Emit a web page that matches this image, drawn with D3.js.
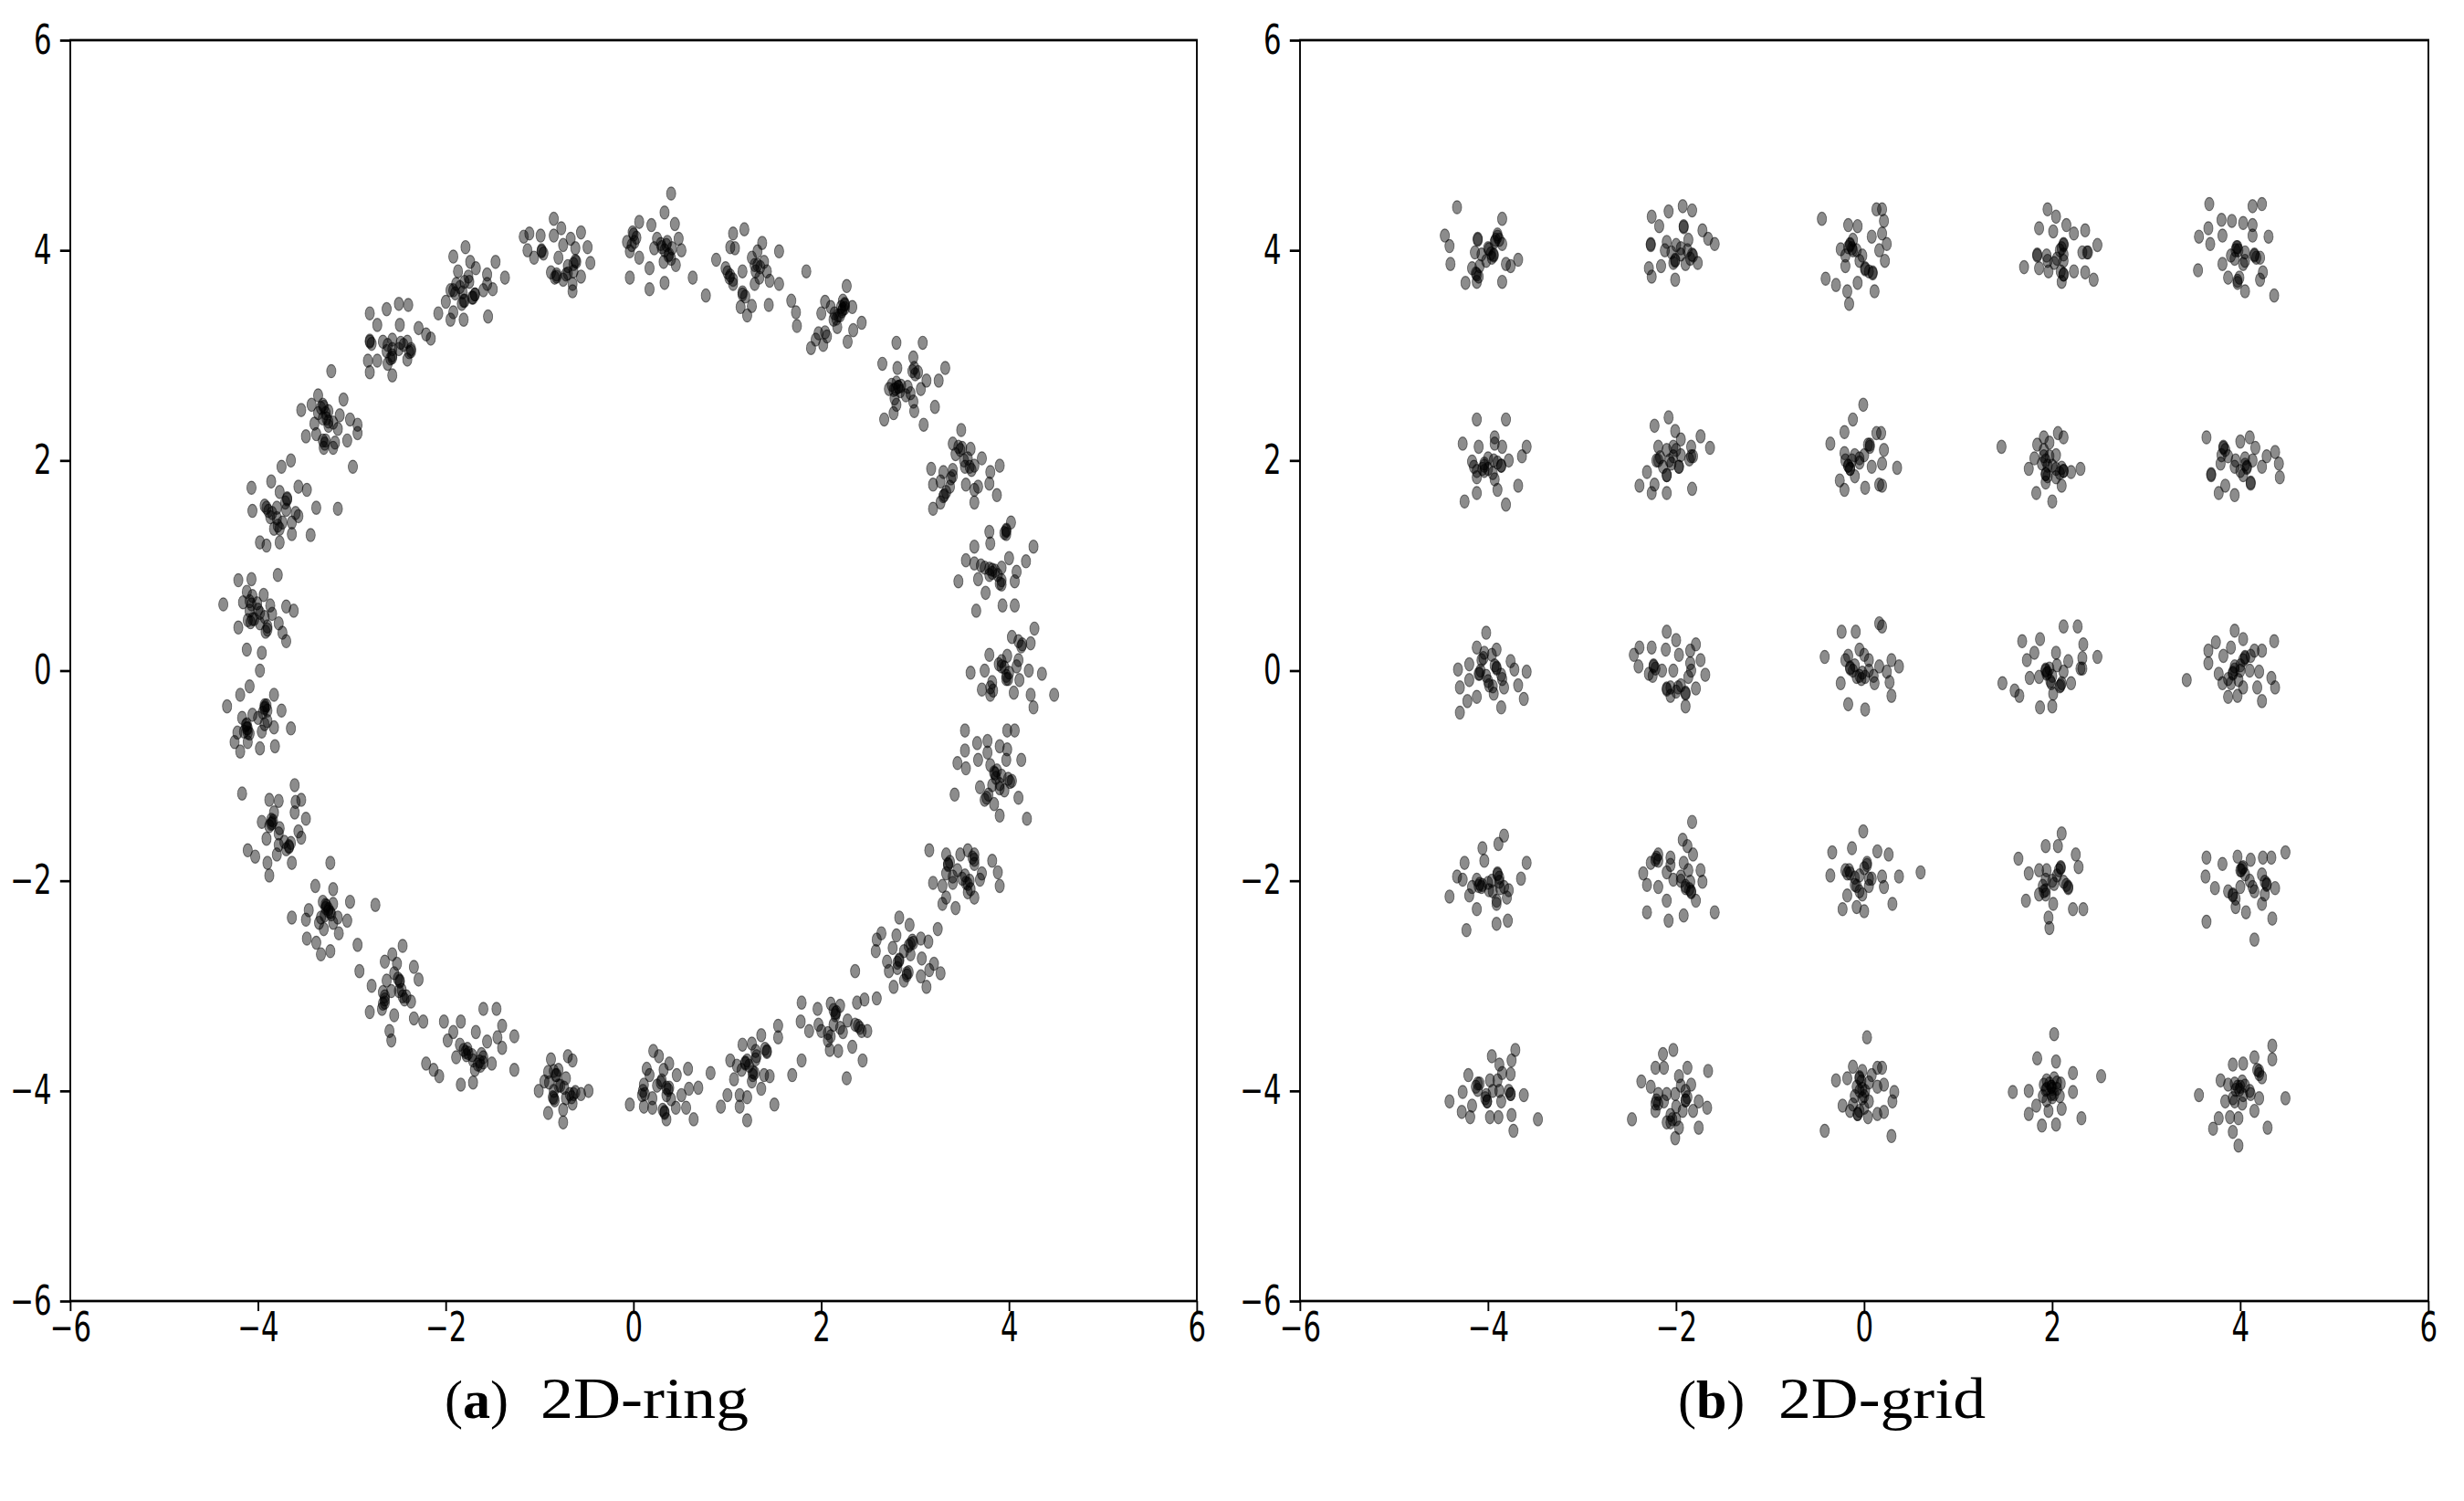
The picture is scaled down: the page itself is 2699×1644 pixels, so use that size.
<!DOCTYPE html>
<html>
<head>
<meta charset="utf-8">
<script src="https://cdn.jsdelivr.net/npm/d3@7"></script>
<style>
  body { margin: 0; background: #fff; }
  svg { display: block; }
</style>
</head>
<body>
<svg id="fig" width="2699" height="1644"></svg>
<script>
// points, one line per cluster
const ringPoints = [
  [0.40,4.54],[0.33,4.36],[0.44,4.25],[0.19,4.24],[0.06,4.27],[-0.01,4.17],[-0.07,4.08],[-0.04,3.99],[0.06,3.93],[0.25,4.11],[0.35,4.05],[0.48,4.11],[0.51,4.00],[0.22,4.02],[0.38,3.96],[0.45,3.86],[0.32,3.89],[0.17,3.83],[-0.04,3.74],[0.17,3.63],[0.33,3.69],[0.63,3.74],[0.01,4.08],[0.29,4.06],[0.41,4.02],
  [1.18,4.20],[1.06,4.16],[1.03,4.03],[1.08,4.02],[1.37,4.07],[1.32,3.99],[1.26,3.93],[1.55,3.99],[0.88,3.91],[0.98,3.83],[1.02,3.74],[1.06,3.68],[1.16,3.80],[1.29,3.86],[1.39,3.89],[1.34,3.74],[1.29,3.68],[1.45,3.71],[1.55,3.68],[1.16,3.58],[1.14,3.46],[1.26,3.47],[1.21,3.38],[1.44,3.48],[1.42,3.80],[0.77,3.57],[1.84,3.80],
  [2.27,3.66],[2.04,3.51],[2.25,3.49],[2.33,3.46],[2.20,3.38],[2.13,3.34],[2.00,3.40],[2.43,3.31],[2.34,3.24],[2.28,3.13],[1.97,3.21],[1.94,3.15],[1.89,3.07],[2.02,3.10],[1.68,3.52],[1.73,3.41],[1.74,3.28],[2.17,3.27],[2.23,3.52],[2.10,3.46],[2.25,3.45],[2.22,3.42],
  [2.80,3.12],[3.08,3.12],[2.65,2.92],[2.81,2.88],[2.98,2.98],[2.99,2.88],[3.32,2.88],[3.25,2.76],[3.12,2.76],[3.06,2.68],[2.85,2.71],[2.77,2.67],[2.72,2.68],[2.90,2.62],[2.98,2.56],[2.80,2.53],[2.77,2.45],[2.67,2.39],[2.99,2.47],[3.09,2.34],[3.21,2.51],[3.03,2.84],[2.78,2.59],[2.75,2.72],[2.82,2.70],
  [3.49,2.29],[3.40,2.16],[3.50,2.12],[3.59,2.11],[3.43,2.06],[3.56,2.02],[3.71,2.02],[3.90,1.95],[3.17,1.92],[3.30,1.89],[3.40,1.91],[3.53,1.94],[3.63,1.95],[3.80,1.89],[3.27,1.80],[3.19,1.77],[3.37,1.75],[3.54,1.77],[3.63,1.72],[3.67,1.75],[3.79,1.78],[3.87,1.67],[3.30,1.66],[3.27,1.60],[3.19,1.54],[3.63,1.60],[3.38,1.83],
  [4.02,1.41],[3.97,1.33],[3.79,1.32],[3.80,1.21],[3.63,1.18],[4.26,1.18],[3.54,1.05],[3.63,1.02],[3.74,0.98],[3.82,0.96],[3.92,0.98],[4.00,1.07],[4.08,0.94],[4.18,1.04],[3.46,0.85],[3.67,0.87],[3.92,0.82],[4.06,0.85],[3.75,0.74],[3.93,0.62],[4.06,0.62],[3.65,0.57],[3.88,0.91],[3.79,0.91],[3.97,1.30],
  [4.27,0.40],[4.03,0.32],[4.13,0.23],[4.23,0.26],[3.79,0.15],[3.92,0.09],[3.98,0.14],[4.08,0.04],[3.59,-0.02],[3.74,0.00],[4.35,-0.03],[4.21,0.00],[3.82,-0.11],[3.71,-0.18],[3.80,-0.23],[3.97,-0.08],[4.05,-0.21],[4.23,-0.23],[4.48,-0.23],[4.26,-0.35],[4.11,-0.09],[3.95,0.03],[4.00,-0.02],[4.10,0.10],
  [3.53,-0.57],[3.98,-0.57],[4.06,-0.57],[3.66,-0.69],[3.77,-0.67],[3.90,-0.72],[3.98,-0.75],[3.53,-0.76],[3.45,-0.88],[3.54,-0.93],[3.67,-0.85],[3.77,-0.78],[3.97,-0.85],[4.13,-0.85],[3.84,-0.97],[3.92,-1.00],[4.03,-1.05],[3.69,-1.11],[3.82,-1.09],[3.90,-1.12],[3.42,-1.18],[3.74,-1.23],[3.84,-1.27],[4.10,-1.21],[3.90,-1.38],[4.19,-1.41],[3.95,-1.14],[3.86,-1.02],
  [3.15,-1.71],[3.33,-1.75],[3.48,-1.75],[3.56,-1.71],[3.63,-1.75],[3.82,-1.81],[3.35,-1.84],[3.63,-1.84],[3.88,-1.92],[3.33,-1.93],[3.53,-1.95],[3.71,-1.93],[3.19,-2.02],[3.29,-2.05],[3.40,-2.02],[3.54,-2.02],[3.59,-2.08],[3.90,-2.05],[3.69,-1.99],[3.33,-2.16],[3.29,-2.22],[3.43,-2.26],[3.63,-2.16],[3.56,-2.11],[3.50,-1.98],
  [2.83,-2.35],[2.94,-2.42],[3.24,-2.46],[2.64,-2.50],[2.80,-2.52],[2.59,-2.56],[2.98,-2.59],[3.06,-2.55],[3.14,-2.58],[2.93,-2.62],[2.58,-2.67],[2.83,-2.76],[2.70,-2.77],[3.07,-2.74],[3.20,-2.79],[2.72,-2.86],[2.91,-2.88],[3.06,-2.91],[3.15,-2.85],[3.27,-2.88],[2.77,-3.01],[2.88,-2.95],[3.12,-3.01],[2.36,-2.86],[2.59,-3.12],[2.81,-2.83],[2.95,-2.70],
  [1.79,-3.16],[1.96,-3.22],[2.10,-3.17],[2.20,-3.19],[2.38,-3.16],[2.46,-3.13],[2.15,-3.28],[1.78,-3.34],[1.87,-3.43],[2.00,-3.43],[2.13,-3.37],[2.36,-3.37],[2.43,-3.43],[2.49,-3.43],[2.07,-3.52],[2.33,-3.58],[2.09,-3.61],[2.18,-3.62],[1.79,-3.71],[2.44,-3.71],[1.69,-3.85],[2.27,-3.88],[2.23,-3.44],[1.97,-3.37],[2.16,-3.25],
  [1.54,-3.38],[1.54,-3.49],[1.36,-3.47],[1.26,-3.55],[1.16,-3.56],[1.42,-3.62],[1.31,-3.67],[1.03,-3.71],[1.19,-3.73],[1.10,-3.76],[1.27,-3.82],[1.39,-3.85],[1.45,-3.86],[1.07,-3.89],[1.26,-3.91],[1.36,-3.98],[1.00,-4.04],[1.13,-4.04],[1.21,-4.06],[0.93,-4.15],[1.13,-4.15],[1.50,-4.13],[1.21,-4.28],[0.82,-3.83],[1.23,-3.76],[1.30,-3.62],
  [0.21,-3.62],[0.27,-3.67],[0.38,-3.74],[0.14,-3.79],[0.32,-3.80],[0.46,-3.85],[0.58,-3.79],[0.17,-3.85],[0.29,-3.92],[0.11,-3.94],[0.38,-3.97],[0.59,-3.98],[0.69,-3.97],[0.09,-4.04],[0.20,-4.07],[0.35,-4.04],[0.51,-4.04],[-0.04,-4.13],[0.11,-4.15],[0.20,-4.16],[0.45,-4.16],[0.56,-4.16],[0.33,-4.21],[0.64,-4.27],[0.35,-4.27],[0.30,-3.90],
  [-0.88,-3.70],[-0.70,-3.67],[-0.65,-3.71],[-0.91,-3.82],[-0.80,-3.80],[-0.72,-3.88],[-0.95,-3.91],[-0.85,-4.00],[-0.74,-3.97],[-0.62,-4.01],[-0.56,-4.03],[-0.48,-4.00],[-1.01,-4.00],[-0.85,-4.07],[-0.72,-4.07],[-0.65,-4.12],[-0.91,-4.21],[-0.75,-4.18],[-0.75,-4.30],[-0.82,-3.85],[-0.80,-3.95],[-0.68,-4.03],
  [-1.60,-3.22],[-1.46,-3.22],[-1.40,-3.38],[-2.02,-3.34],[-1.84,-3.34],[-1.92,-3.44],[-1.68,-3.44],[-1.56,-3.53],[-1.45,-3.49],[-1.27,-3.48],[-1.98,-3.52],[-1.81,-3.61],[-1.76,-3.64],[-1.40,-3.59],[-1.89,-3.68],[-1.71,-3.71],[-1.60,-3.73],[-1.51,-3.74],[-1.69,-3.80],[-2.21,-3.74],[-2.13,-3.80],[-2.07,-3.86],[-1.27,-3.80],[-1.84,-3.94],[-1.71,-3.92],[-1.63,-3.76],[-1.78,-3.66],
  [-2.46,-2.62],[-2.57,-2.70],[-2.65,-2.77],[-2.52,-2.79],[-2.34,-2.82],[-2.29,-2.94],[-2.49,-2.95],[-2.79,-3.00],[-2.67,-3.06],[-2.42,-3.10],[-2.37,-3.15],[-2.65,-3.16],[-2.81,-3.25],[-2.68,-3.22],[-2.55,-3.28],[-2.34,-3.31],[-2.24,-3.34],[-2.60,-3.43],[-2.58,-3.52],[-2.92,-2.86],[-2.63,-2.95],[-2.47,-3.04],[-2.65,-3.10],[-2.50,-3.05],
  [-3.23,-1.83],[-3.39,-2.05],[-3.20,-2.08],[-3.02,-2.20],[-2.75,-2.23],[-3.28,-2.23],[-3.25,-2.29],[-3.46,-2.28],[-3.64,-2.35],[-3.49,-2.37],[-3.33,-2.35],[-3.05,-2.38],[-3.14,-2.50],[-3.30,-2.46],[-3.48,-2.55],[-3.38,-2.59],[-3.33,-2.70],[-3.23,-2.67],[-2.94,-2.61],[-3.22,-2.32],[-3.28,-2.26],[-3.20,-2.40],
  [-3.61,-1.09],[-4.17,-1.17],[-3.88,-1.23],[-3.78,-1.24],[-3.54,-1.23],[-3.83,-1.35],[-3.61,-1.35],[-3.49,-1.41],[-3.96,-1.44],[-3.85,-1.45],[-3.77,-1.50],[-3.91,-1.60],[-3.54,-1.59],[-3.78,-1.66],[-3.67,-1.68],[-4.11,-1.71],[-4.03,-1.77],[-3.80,-1.75],[-3.90,-1.83],[-3.64,-1.83],[-3.88,-1.95],[-3.57,-1.53],[-3.72,-1.63],[-3.86,-1.42],
  [-4.09,-0.15],[-4.19,-0.23],[-3.83,-0.23],[-4.33,-0.34],[-3.93,-0.33],[-3.90,-0.38],[-3.75,-0.38],[-4.17,-0.45],[-4.12,-0.51],[-4.06,-0.42],[-3.93,-0.51],[-3.83,-0.54],[-3.65,-0.55],[-4.22,-0.59],[-4.11,-0.59],[-3.96,-0.58],[-4.11,-0.68],[-4.25,-0.68],[-4.19,-0.77],[-3.98,-0.74],[-3.82,-0.72],[-3.90,-0.48],[-4.12,-0.55],[-3.93,-0.36],
  [-3.79,0.91],[-4.21,0.86],[-4.07,0.87],[-4.37,0.63],[-4.12,0.75],[-4.06,0.71],[-3.94,0.72],[-3.87,0.62],[-3.70,0.61],[-3.62,0.57],[-4.16,0.65],[-4.09,0.57],[-4.04,0.49],[-3.93,0.51],[-3.85,0.54],[-4.21,0.41],[-3.90,0.42],[-3.78,0.45],[-3.74,0.36],[-3.70,0.28],[-4.12,0.20],[-3.96,0.17],[-3.98,0.00],[-4.01,0.64],[-4.11,0.48],[-3.98,0.55],
  [-3.65,2.00],[-3.75,1.94],[-3.86,1.80],[-4.07,1.74],[-3.57,1.75],[-3.48,1.72],[-3.77,1.70],[-3.69,1.64],[-3.93,1.57],[-3.80,1.55],[-4.06,1.52],[-3.38,1.55],[-3.15,1.54],[-3.87,1.46],[-3.57,1.47],[-3.64,1.41],[-3.74,1.41],[-3.83,1.35],[-3.98,1.22],[-3.91,1.19],[-3.77,1.22],[-3.64,1.30],[-3.44,1.29],[-2.99,1.94],[-3.70,1.53],[-3.85,1.50],
  [-3.36,2.62],[-3.09,2.58],[-3.54,2.48],[-3.43,2.53],[-3.30,2.51],[-3.25,2.47],[-3.31,2.40],[-3.13,2.43],[-3.02,2.39],[-2.94,2.34],[-3.25,2.33],[-3.49,2.23],[-3.38,2.25],[-3.28,2.19],[-3.18,2.17],[-3.05,2.19],[-2.94,2.26],[-3.30,2.12],[-3.20,2.12],[-3.22,2.85],[-3.36,2.45],[-3.28,2.45],[-3.20,2.36],
  [-2.81,3.40],[-2.63,3.44],[-2.50,3.49],[-2.40,3.48],[-2.73,3.29],[-2.49,3.29],[-2.81,3.13],[-2.67,3.13],[-2.57,3.15],[-2.41,3.13],[-2.29,3.26],[-2.21,3.20],[-2.16,3.16],[-2.57,3.06],[-2.50,3.06],[-2.37,3.04],[-2.83,2.95],[-2.73,2.95],[-2.57,2.98],[-2.41,2.96],[-2.81,2.84],[-2.57,2.81],[-2.63,3.04],[-2.45,3.10],[-2.62,3.10],
  [-1.79,4.03],[-1.92,3.94],[-1.74,3.89],[-1.68,3.83],[-1.47,3.89],[-1.87,3.80],[-1.76,3.75],[-1.56,3.77],[-1.89,3.68],[-1.95,3.62],[-1.82,3.60],[-1.69,3.58],[-1.56,3.68],[-1.50,3.63],[-1.37,3.74],[-2.00,3.51],[-1.92,3.41],[-1.81,3.34],[-1.95,3.34],[-2.08,3.40],[-1.55,3.37],[-1.81,3.52],[-1.72,3.55],[-1.85,3.65],[-1.80,3.70],
  [-0.85,4.30],[-0.77,4.21],[-1.17,4.13],[-1.11,4.16],[-0.99,4.14],[-0.85,4.14],[-0.56,4.17],[-0.67,4.11],[-0.98,3.99],[-1.13,4.00],[-1.06,3.93],[-0.80,3.93],[-0.61,3.89],[-0.49,4.03],[-0.46,3.88],[-0.88,3.79],[-0.82,3.75],[-0.72,3.77],[-0.64,3.80],[-0.56,3.75],[-0.65,3.68],[-0.65,3.61],[-0.75,4.05],[-0.62,4.02],[-0.70,3.85]
];

// extra points stacked in the dark cores of the ring clusters
const ringCorePoints = [
  [0.00,4.15],[-0.02,4.05],[0.03,4.12],[0.33,4.00],[0.37,3.95],[0.30,4.03],[0.40,3.92],[0.36,4.08],
  [1.03,3.76],[1.06,3.72],[1.32,3.86],[1.30,3.80],[1.35,3.84],[1.16,3.60],[1.19,3.56],[1.00,3.79],
  [2.25,3.48],[2.23,3.44],[2.18,3.38],[2.16,3.35],[2.04,3.22],[2.06,3.18],[2.21,3.46],[2.14,3.40],
  [2.82,2.70],[2.79,2.68],[2.84,2.66],[2.80,2.74],[2.97,2.85],[3.00,2.82],[2.92,2.70],[2.95,2.64],
  [3.46,2.13],[3.48,2.10],[3.58,1.94],[3.60,1.91],[3.31,1.67],[3.33,1.70],[3.52,2.00],[3.40,1.85],
  [3.97,1.34],[3.95,1.31],[3.79,0.97],[3.82,0.93],[3.92,0.86],[3.90,0.83],[3.85,0.95],[3.70,1.00],
  [4.10,0.28],[4.14,0.25],[3.89,0.06],[3.92,0.04],[3.97,-0.05],[3.99,-0.08],[3.80,-0.16],[3.83,-0.19],
  [3.85,-0.98],[3.87,-0.95],[4.01,-1.06],[3.99,-1.03],[3.76,-1.21],[3.78,-1.18],[3.90,-1.08],[3.80,-0.90],
  [3.35,-1.85],[3.37,-1.82],[3.56,-2.03],[3.58,-2.00],[3.61,-1.78],[3.63,-1.80],[3.45,-1.90],[3.40,-1.96],
  [2.95,-2.60],[2.97,-2.57],[2.81,-2.78],[2.83,-2.75],[2.91,-2.90],[2.93,-2.87],[2.88,-2.67],[2.76,-2.64],
  [2.15,-3.26],[2.13,-3.23],[2.41,-3.40],[2.39,-3.38],[2.07,-3.45],[2.10,-3.48],[2.28,-3.33],[2.20,-3.40],
  [1.19,-3.74],[1.21,-3.71],[1.42,-3.63],[1.40,-3.60],[1.27,-3.85],[1.29,-3.83],[1.30,-3.70],[1.15,-3.80],
  [0.35,-3.97],[0.37,-3.99],[0.33,-4.20],[0.31,-4.18],[0.10,-4.00],[0.12,-4.03],[0.25,-3.95],[0.40,-4.08],
  [-0.85,-3.81],[-0.83,-3.85],[-0.86,-4.06],[-0.84,-4.09],[-0.64,-4.03],[-0.66,-4.06],[-0.78,-3.95],[-0.90,-3.92],
  [-1.79,-3.63],[-1.77,-3.60],[-1.66,-3.75],[-1.64,-3.72],[-1.60,-3.68],[-1.62,-3.65],[-1.72,-3.66],[-1.85,-3.56],
  [-2.49,-2.96],[-2.51,-2.93],[-2.67,-3.17],[-2.65,-3.13],[-2.44,-3.13],[-2.46,-3.10],[-2.58,-3.05],[-2.55,-2.88],
  [-3.25,-2.27],[-3.27,-2.24],[-3.23,-2.30],[-3.29,-2.33],[-3.20,-2.22],[-3.31,-2.20],[-3.35,-2.40],[-3.15,-2.35],
  [-3.86,-1.46],[-3.84,-1.43],[-3.88,-1.48],[-3.67,-1.67],[-3.65,-1.64],[-3.70,-1.70],[-3.78,-1.55],[-3.60,-1.25],
  [-3.93,-0.35],[-3.91,-0.33],[-4.11,-0.55],[-4.13,-0.52],[-4.09,-0.60],[-4.15,-0.58],[-4.00,-0.45],[-3.95,-0.40],
  [-4.06,0.49],[-4.08,0.46],[-3.90,0.39],[-3.92,0.37],[-4.09,0.66],[-4.07,0.63],[-3.98,0.45],[-4.00,0.58],
  [-3.91,1.55],[-3.89,1.52],[-3.69,1.63],[-3.71,1.60],[-3.77,1.35],[-3.79,1.38],[-3.80,1.45],[-3.60,1.50],
  [-3.31,2.53],[-3.33,2.50],[-3.25,2.37],[-3.27,2.40],[-3.31,2.19],[-3.29,2.16],[-3.15,2.30],[-3.40,2.35],
  [-2.57,3.00],[-2.59,2.97],[-2.37,3.06],[-2.39,3.03],[-2.81,3.14],[-2.79,3.11],[-2.62,2.92],[-2.48,3.12],
  [-1.92,3.62],[-1.90,3.59],[-1.69,3.58],[-1.71,3.55],[-1.80,3.52],[-1.83,3.49],[-1.75,3.70],[-1.60,3.62],
  [-0.98,4.00],[-0.96,3.97],[-0.82,3.77],[-0.84,3.74],[-0.62,3.90],[-0.64,3.87],[-0.70,3.78],[-0.75,3.72]
];

const gridPoints = [
  [-4.33,4.41],[-3.85,4.30],[-4.46,4.14],[-4.41,4.04],[-4.11,4.11],[-3.90,4.15],[-3.85,4.06],[-3.99,4.01],[-4.07,3.96],[-3.94,3.95],[-4.14,3.98],[-3.68,3.91],[-4.40,3.87],[-4.17,3.83],[-4.09,3.85],[-3.81,3.87],[-3.76,3.85],[-4.12,3.77],[-4.24,3.69],[-4.12,3.70],[-3.85,3.70],[-4.02,3.90],[-3.93,4.08],[-3.92,4.10],[-3.97,3.97],
  [-2.26,4.32],[-2.08,4.37],[-1.93,4.42],[-1.83,4.38],[-2.18,4.23],[-1.92,4.23],[-1.72,4.19],[-2.27,4.05],[-2.10,4.08],[-2.00,4.05],[-1.87,4.10],[-1.66,4.11],[-1.59,4.06],[-2.29,3.83],[-2.16,3.85],[-2.01,3.90],[-1.90,3.87],[-1.82,3.95],[-1.77,3.88],[-2.26,3.75],[-2.01,3.72],[-1.95,3.96],[-1.88,4.00],[-2.05,3.98],
  [-0.45,4.30],[0.13,4.39],[-0.17,4.24],[-0.07,4.23],[-0.25,4.01],[-0.15,4.05],[-0.08,4.00],[0.08,4.13],[-0.02,3.95],[-0.20,3.85],[0.01,3.82],[0.09,3.79],[-0.41,3.73],[-0.30,3.67],[-0.18,3.61],[-0.07,3.69],[0.11,3.61],[-0.16,3.49],[-0.12,4.10],[0.16,4.00],[0.19,4.39],[0.21,4.28],[0.24,4.06],[0.22,3.90],[0.19,4.16],[-0.13,4.02],
  [1.95,4.39],[2.04,4.32],[1.86,4.21],[2.01,4.18],[2.15,4.24],[2.23,4.16],[2.35,4.19],[2.12,4.05],[1.84,3.95],[1.94,3.95],[2.12,3.96],[2.32,3.98],[2.38,3.98],[2.48,4.05],[1.70,3.84],[1.86,3.83],[1.96,3.80],[2.12,3.77],[2.23,3.80],[2.35,3.79],[2.44,3.72],[2.10,3.70],[2.02,3.88],[2.12,3.90],[2.08,4.00],
  [3.67,4.44],[4.13,4.42],[4.23,4.44],[3.80,4.29],[3.91,4.28],[4.03,4.26],[4.13,4.24],[3.66,4.21],[3.56,4.13],[3.68,4.06],[3.81,4.14],[4.13,4.14],[4.30,4.13],[3.97,4.03],[4.05,3.98],[4.15,3.95],[4.21,3.93],[3.55,3.81],[3.81,3.87],[3.94,3.92],[4.24,3.79],[3.87,3.74],[3.97,3.69],[4.05,3.61],[4.36,3.57],[4.21,3.72],[4.03,3.87],[3.95,4.00],
  [-4.12,2.39],[-3.81,2.39],[-4.27,2.16],[-4.10,2.13],[-3.93,2.22],[-3.85,2.13],[-3.59,2.13],[-3.64,2.04],[-4.15,1.94],[-4.04,1.97],[-3.94,2.00],[-3.86,1.95],[-3.78,2.00],[-4.12,1.84],[-3.93,1.82],[-3.68,1.76],[-4.12,1.69],[-3.90,1.72],[-4.25,1.61],[-3.81,1.58],[-4.04,1.90],[-4.17,1.99],[-4.00,1.92],
  [-2.08,2.41],[-2.23,2.33],[-2.01,2.28],[-1.95,2.20],[-1.74,2.23],[-1.64,2.12],[-2.19,2.13],[-2.10,2.10],[-2.03,2.13],[-1.84,2.13],[-2.21,2.00],[-2.14,1.94],[-1.82,2.04],[-1.97,1.94],[-2.31,1.89],[-2.10,1.86],[-2.39,1.76],[-2.23,1.77],[-2.26,1.69],[-2.10,1.69],[-1.83,1.73],[-2.03,2.04],[-2.07,2.00],[-1.95,2.05],
  [-0.01,2.53],[-0.12,2.39],[-0.21,2.27],[-0.36,2.16],[0.06,2.15],[0.13,2.26],[-0.21,2.07],[-0.13,2.00],[-0.15,1.92],[-0.26,1.81],[-0.21,1.72],[0.01,1.74],[0.16,1.77],[-0.05,2.02],[0.08,1.94],[0.18,2.26],[0.21,2.10],[0.19,1.97],[0.35,1.93],[0.19,1.76],[-0.17,1.95],[-0.10,2.05],
  [1.46,2.13],[2.06,2.26],[1.91,2.22],[1.84,2.15],[1.97,2.17],[2.12,2.22],[1.81,2.02],[1.75,1.92],[1.89,1.97],[1.97,2.04],[2.04,2.05],[1.93,1.87],[2.12,1.90],[2.20,1.89],[2.30,1.92],[1.93,1.79],[2.10,1.76],[1.83,1.69],[2.00,1.61],[2.04,1.84],[1.91,2.10],[1.95,1.95],[2.08,1.88],
  [3.64,2.22],[3.82,2.13],[4.00,2.18],[4.10,2.22],[4.16,2.12],[3.87,2.04],[3.79,1.97],[3.69,1.87],[3.94,1.94],[4.07,1.94],[4.13,2.00],[4.28,2.04],[4.37,2.08],[4.41,1.97],[4.42,1.84],[3.84,1.76],[3.77,1.69],[3.94,1.67],[4.11,1.79],[4.23,1.94],[4.03,1.86],[3.80,2.05],[4.05,2.02],
  [-4.02,0.36],[-4.12,0.22],[-3.91,0.20],[-4.04,0.17],[-3.96,0.15],[-3.76,0.09],[-4.32,0.01],[-4.20,0.06],[-4.09,-0.03],[-3.91,0.02],[-3.86,-0.04],[-3.72,0.01],[-3.59,-0.01],[-4.30,-0.16],[-4.20,-0.09],[-3.99,-0.14],[-3.83,-0.16],[-3.68,-0.14],[-4.22,-0.29],[-4.12,-0.25],[-3.94,-0.22],[-3.62,-0.27],[-4.30,-0.40],[-3.86,-0.35],[-4.02,-0.05],[-4.07,0.10],
  [-2.10,0.37],[-2.39,0.22],[-2.26,0.22],[-2.00,0.29],[-1.79,0.25],[-2.11,0.20],[-2.45,0.15],[-1.97,0.15],[-1.85,0.19],[-1.74,0.10],[-2.40,0.04],[-2.24,0.04],[-2.03,0.00],[-1.85,0.07],[-1.87,-0.06],[-1.69,-0.04],[-2.29,-0.03],[-2.10,-0.17],[-1.98,-0.16],[-1.90,-0.22],[-1.79,-0.17],[-2.06,-0.24],[-1.90,-0.34],[-1.84,0.00],[-2.25,-0.05],
  [0.16,0.45],[-0.24,0.37],[-0.09,0.37],[-0.42,0.13],[-0.17,0.14],[-0.05,0.20],[-0.15,0.02],[0.01,-0.06],[-0.08,-0.06],[0.11,-0.12],[-0.25,-0.12],[-0.17,-0.32],[0.01,-0.37],[0.16,0.04],[0.19,0.42],[0.29,0.10],[0.37,0.04],[0.24,-0.01],[0.27,-0.11],[0.29,-0.24],[-0.10,0.05],[0.05,0.00],[-0.02,-0.02],
  [2.12,0.42],[2.27,0.42],[1.68,0.28],[1.87,0.30],[2.33,0.25],[1.81,0.17],[2.04,0.17],[1.73,0.10],[2.17,0.09],[2.32,0.12],[2.48,0.13],[1.93,0.00],[1.86,-0.06],[2.12,-0.01],[2.32,0.02],[1.76,-0.07],[1.47,-0.12],[1.60,-0.19],[1.65,-0.24],[1.99,-0.12],[2.09,-0.14],[2.20,-0.12],[2.01,-0.22],[1.87,-0.35],[2.00,-0.34],[1.94,-0.03],[1.97,0.02],
  [3.94,0.38],[4.03,0.30],[3.74,0.27],[4.36,0.28],[3.66,0.19],[3.90,0.22],[3.82,0.14],[4.05,0.12],[4.15,0.19],[4.23,0.19],[3.66,0.07],[3.77,-0.03],[3.92,-0.03],[4.20,-0.01],[3.43,-0.09],[3.81,-0.12],[3.98,-0.09],[4.03,-0.16],[4.18,-0.16],[4.33,-0.07],[4.37,-0.16],[3.87,-0.25],[3.97,-0.24],[4.23,-0.29],[4.11,0.14],[3.94,0.04],[4.00,0.00],
  [-3.83,-1.57],[-3.89,-1.65],[-4.06,-1.69],[-4.25,-1.83],[-4.04,-1.81],[-3.59,-1.83],[-4.33,-1.96],[-4.27,-1.99],[-4.12,-1.99],[-4.17,-2.06],[-4.06,-2.04],[-3.99,-2.09],[-3.90,-1.93],[-3.88,-2.01],[-3.83,-2.06],[-3.78,-2.09],[-3.65,-1.98],[-4.41,-2.15],[-4.20,-2.14],[-3.91,-2.19],[-3.80,-2.16],[-4.12,-2.27],[-3.91,-2.41],[-3.79,-2.38],[-4.23,-2.47],[-3.96,-2.00],[-4.10,-2.05],
  [-1.83,-1.44],[-1.93,-1.61],[-1.88,-1.67],[-1.82,-1.75],[-2.06,-1.78],[-2.19,-1.75],[-2.27,-1.83],[-2.35,-1.93],[-1.92,-1.83],[-1.87,-1.90],[-1.74,-1.90],[-2.31,-2.04],[-2.19,-2.06],[-2.03,-1.99],[-1.95,-1.96],[-1.90,-2.07],[-1.84,-2.10],[-1.72,-2.01],[-2.10,-2.19],[-1.79,-2.19],[-2.31,-2.30],[-2.08,-2.38],[-1.92,-2.33],[-1.59,-2.30],[-1.85,-2.01],[-2.22,-1.80],
  [-0.01,-1.53],[-0.34,-1.73],[-0.13,-1.69],[0.14,-1.72],[-0.36,-1.95],[-0.20,-1.90],[0.03,-1.85],[-0.10,-2.04],[0.08,-1.98],[-0.18,-2.14],[-0.02,-2.13],[-0.23,-2.27],[-0.08,-2.25],[0.00,-2.29],[-0.15,-1.93],[0.26,-1.75],[0.19,-1.96],[0.21,-2.06],[0.37,-1.96],[0.60,-1.92],[0.30,-2.22],[-0.05,-1.95],[0.05,-2.05],
  [2.10,-1.55],[1.93,-1.67],[2.06,-1.67],[1.64,-1.79],[2.25,-1.75],[1.75,-1.93],[1.86,-1.90],[1.94,-1.90],[2.09,-1.88],[2.28,-1.87],[1.93,-1.99],[2.17,-2.07],[1.86,-2.13],[1.93,-2.09],[1.72,-2.19],[2.01,-2.22],[1.96,-2.35],[1.97,-2.45],[2.22,-2.27],[2.33,-2.27],[2.12,-2.01],[2.02,-2.03],[1.90,-2.05],
  [3.64,-1.78],[3.81,-1.84],[3.97,-1.77],[4.11,-1.80],[4.24,-1.78],[4.33,-1.78],[4.48,-1.73],[3.63,-1.96],[4.00,-1.90],[4.05,-1.94],[4.23,-1.94],[3.73,-2.07],[3.87,-2.10],[4.00,-2.06],[4.13,-2.06],[4.28,-2.03],[4.37,-2.07],[3.95,-2.25],[4.06,-2.30],[4.23,-2.22],[4.34,-2.36],[3.64,-2.39],[4.15,-2.56],[3.92,-2.14],[4.26,-2.13],[4.02,-1.88],
  [-3.71,-3.61],[-3.96,-3.67],[-3.75,-3.71],[-3.88,-3.75],[-4.21,-3.85],[-4.09,-3.93],[-3.98,-3.90],[-3.85,-3.83],[-3.76,-3.84],[-4.27,-4.01],[-4.11,-3.99],[-3.88,-4.00],[-3.76,-4.03],[-3.62,-4.04],[-4.41,-4.10],[-4.01,-4.10],[-3.86,-4.10],[-4.17,-4.14],[-4.28,-4.20],[-4.19,-4.25],[-3.98,-4.25],[-3.89,-4.25],[-3.75,-4.23],[-3.47,-4.27],[-3.73,-4.38],[-4.02,-4.04],
  [-2.03,-3.61],[-2.14,-3.65],[-2.22,-3.78],[-2.13,-3.78],[-1.88,-3.78],[-1.66,-3.81],[-1.97,-3.86],[-2.37,-3.91],[-2.27,-3.96],[-2.19,-4.03],[-2.10,-4.03],[-2.01,-4.03],[-1.90,-4.00],[-1.84,-3.94],[-2.22,-4.12],[-2.13,-4.10],[-1.90,-4.09],[-1.76,-4.10],[-1.67,-4.16],[-2.22,-4.19],[-2.06,-4.23],[-1.93,-4.19],[-1.82,-4.19],[-2.47,-4.27],[-2.10,-4.30],[-1.97,-4.35],[-1.76,-4.35],[-2.01,-4.45],[-2.00,-4.27],
  [0.03,-3.49],[-0.12,-3.77],[-0.02,-3.81],[0.14,-3.78],[-0.30,-3.90],[-0.18,-3.88],[-0.05,-3.87],[0.08,-3.85],[-0.08,-3.96],[0.01,-4.00],[0.14,-3.96],[-0.23,-4.14],[-0.12,-4.13],[-0.02,-4.07],[-0.07,-4.22],[0.04,-4.25],[0.14,-4.22],[-0.42,-4.38],[-0.15,-4.19],[0.00,-4.16],[0.19,-3.78],[0.21,-3.94],[0.32,-4.01],[0.30,-4.10],[0.21,-4.20],[0.29,-4.43],[-0.05,-4.00],[0.05,-3.92],
  [2.02,-3.46],[1.84,-3.69],[2.04,-3.72],[2.22,-3.83],[2.52,-3.86],[1.94,-3.90],[2.02,-3.88],[2.09,-3.93],[1.75,-4.00],[1.58,-4.01],[1.93,-3.99],[1.99,-4.03],[2.22,-4.01],[1.94,-4.09],[1.83,-4.14],[1.75,-4.22],[1.96,-4.19],[2.10,-4.17],[2.31,-4.26],[1.89,-4.33],[2.04,-4.32],[1.99,-3.96],[1.91,-3.94],[2.00,-3.98],[2.05,-3.92],
  [4.34,-3.57],[4.34,-3.70],[4.15,-3.68],[3.92,-3.75],[4.03,-3.74],[4.20,-3.81],[3.79,-3.90],[3.94,-3.93],[4.02,-3.91],[4.23,-3.87],[3.87,-3.94],[3.56,-4.04],[4.03,-4.04],[4.11,-4.03],[4.20,-4.07],[4.48,-4.07],[3.84,-4.10],[4.02,-4.12],[4.15,-4.19],[3.77,-4.26],[3.89,-4.25],[3.98,-4.26],[4.29,-4.35],[3.71,-4.36],[3.92,-4.39],[3.98,-4.52],[3.95,-3.99],[4.00,-3.96]
];

// extra points stacked in the dark cores of the grid clusters
const gridCorePoints = [
  [-3.90,4.13],[-3.88,4.10],[-3.94,3.96],[-3.96,3.93],[-4.11,4.10],[-4.13,3.78],[-4.10,3.75],[-4.00,4.02],
  [-2.27,4.06],[-2.01,3.91],[-1.83,3.96],[-1.85,3.92],[-1.92,4.22],[-2.03,3.88],[-1.95,4.02],[-2.12,4.00],
  [-0.15,4.06],[-0.17,4.03],[0.01,3.83],[0.05,3.80],[0.09,3.78],[-0.12,4.00],[-0.05,3.90],[-0.20,3.95],
  [2.12,4.06],[2.10,4.02],[1.84,3.96],[2.37,3.98],[2.12,3.77],[2.09,3.80],[2.05,3.92],[1.95,3.90],
  [3.98,4.00],[3.96,4.03],[4.15,3.96],[4.17,3.93],[3.97,3.71],[3.99,3.74],[4.05,3.90],[3.90,3.95],
  [-4.04,1.95],[-4.06,1.92],[-4.12,1.90],[-3.93,2.16],[-3.86,1.95],[-3.90,1.98],[-4.00,2.02],[-3.95,1.88],
  [-2.19,2.00],[-2.17,2.03],[-1.84,2.04],[-1.86,2.01],[-2.10,1.86],[-1.97,1.94],[-2.05,1.97],[-2.00,2.10],
  [0.04,2.15],[0.06,2.13],[-0.15,1.92],[-0.17,1.95],[-0.20,2.00],[-0.10,1.85],[0.00,2.05],[-0.05,1.98],
  [1.93,1.87],[1.95,1.85],[2.12,1.90],[2.10,1.93],[1.91,2.04],[1.93,2.00],[2.00,1.95],[2.04,1.92],
  [3.82,2.12],[3.84,2.10],[4.07,1.93],[4.05,1.96],[4.11,1.78],[3.69,1.86],[3.95,2.00],[4.00,1.90],
  [-4.10,-0.03],[-4.08,0.00],[-3.91,0.03],[-3.93,0.05],[-4.00,-0.10],[-3.95,-0.15],[-4.05,0.12],[-3.85,-0.08],
  [-2.24,0.05],[-2.22,0.02],[-2.10,-0.18],[-2.06,-0.16],[-1.90,-0.21],[-1.95,-0.14],[-2.00,-0.20],[-2.15,0.00],
  [-0.15,0.03],[-0.12,0.00],[-0.05,-0.05],[-0.03,-0.08],[0.05,0.10],[0.10,-0.05],[-0.20,0.10],[0.00,0.15],
  [1.93,0.01],[1.95,-0.02],[2.10,-0.12],[2.08,-0.15],[2.30,0.02],[2.00,-0.05],[2.05,0.05],[1.98,-0.10],
  [3.92,-0.02],[3.94,0.01],[4.05,0.13],[4.03,0.10],[3.87,-0.08],[3.90,-0.12],[4.00,0.05],[4.10,0.00],
  [-4.09,-2.03],[-4.07,-2.06],[-3.90,-1.94],[-3.88,-1.97],[-3.87,-2.07],[-3.91,-2.22],[-4.00,-2.02],[-3.95,-2.10],
  [-2.19,-1.81],[-2.21,-1.78],[-1.90,-2.05],[-1.84,-2.11],[-1.86,-2.08],[-2.06,-1.85],[-1.95,-2.00],[-2.10,-1.92],
  [-0.18,-1.93],[-0.16,-1.90],[0.03,-1.83],[0.00,-1.88],[-0.05,-2.10],[-0.08,-2.05],[-0.10,-1.97],[0.05,-1.98],
  [1.91,-2.10],[1.93,-2.13],[2.09,-1.87],[2.07,-1.90],[2.17,-2.06],[2.15,-2.04],[2.00,-2.00],[2.05,-1.95],
  [4.01,-1.90],[4.03,-1.87],[4.28,-2.04],[4.26,-2.01],[3.92,-2.13],[3.95,-2.17],[4.10,-2.00],[4.15,-2.10],
  [-4.01,-4.10],[-4.03,-4.07],[-4.11,-3.93],[-4.13,-3.96],[-3.76,-4.03],[-3.78,-4.00],[-3.95,-4.00],[-3.90,-3.90],
  [-2.19,-4.12],[-2.21,-4.09],[-1.90,-4.09],[-1.88,-4.06],[-2.06,-4.30],[-2.04,-4.27],[-2.00,-4.15],[-1.95,-3.95],
  [-0.05,-3.88],[-0.03,-3.91],[-0.07,-4.22],[-0.05,-4.19],[0.00,-4.05],[-0.10,-4.05],[0.05,-4.10],[-0.02,-3.98],
  [1.97,-3.93],[1.99,-3.96],[2.02,-4.03],[2.00,-4.06],[1.94,-3.98],[2.05,-3.98],[1.90,-4.05],[2.08,-4.05],
  [3.97,-3.96],[3.99,-3.99],[4.18,-3.80],[4.20,-3.84],[3.92,-4.07],[3.94,-4.10],[4.05,-3.95],[4.10,-4.00]
];

const tickValues = [-6, -4, -2, 0, 2, 4, 6];
const captionLetters = ['a', 'b'];
const captionNames = ['2D-ring', '2D-grid'];

const svg = d3.select('#fig');

// the source figure is squeezed sideways, so each panel is drawn in a wider
// space and scaled back by sx
const sx = 0.7;
const plotTop = 44, plotBottom = 1425;

function drawPanel(points, left, right) {
  let W = (right - left) / sx;
  let H = plotBottom - plotTop;
  let x = d3.scaleLinear().domain([-6, 6]).range([0, W]);
  let y = d3.scaleLinear().domain([-6, 6]).range([H, 0]);

  let g = svg.append('g').attr('transform', `translate(${left},${plotTop}) scale(${sx},1)`);

  g.append('g')
    .selectAll('circle')
    .data(points)
    .join('circle')
    .attr('cx', d => x(d[0]))
    .attr('cy', d => y(d[1]))
    .attr('r', 7.2)
    .attr('fill', '#000')
    .attr('fill-opacity', 0.45)
    .attr('stroke', '#000')
    .attr('stroke-opacity', 0.5)
    .attr('stroke-width', 1.2);

  let xAxis = g.append('g')
    .attr('transform', `translate(0,${H})`)
    .call(d3.axisBottom(x).tickValues(tickValues).tickSize(11).tickPadding(2));
  let yAxis = g.append('g')
    .call(d3.axisLeft(y).tickValues(tickValues).tickSize(16).tickPadding(13));

  for (let a of [xAxis, yAxis]) {
    a.select('.domain').remove();
    a.selectAll('line').attr('stroke', '#000').attr('stroke-width', 2.7);
    a.selectAll('text')
      .attr('fill', '#000')
      .attr('font-family', 'DejaVu Sans')
      .attr('font-size', 44);
  }

  // frame
  g.append('rect')
    .attr('width', W)
    .attr('height', H)
    .attr('fill', 'none')
    .attr('stroke', '#000')
    .attr('stroke-width', 2.7);
}

function drawCaption(letter, name, x0, x1, w1) {
  let t = svg.append('text')
    .attr('x', x0).attr('y', 1553)
    .attr('font-family', 'Liberation Serif')
    .attr('font-size', 60);
  t.append('tspan').text('(');
  t.append('tspan').attr('font-weight', 'bold').text(letter);
  t.append('tspan').text(')');

  svg.append('text')
    .attr('x', x1).attr('y', 1553)
    .attr('font-family', 'Liberation Serif')
    .attr('font-size', 64)
    .attr('textLength', w1)
    .attr('lengthAdjust', 'spacingAndGlyphs')
    .text(name);
}

drawPanel(ringPoints.concat(ringCorePoints), 77, 1311);
drawPanel(gridPoints.concat(gridCorePoints), 1424, 2660);

drawCaption(captionLetters[0], captionNames[0], 487, 592, 228);
drawCaption(captionLetters[1], captionNames[1], 1838, 1948, 227);
</script>
</body>
</html>
